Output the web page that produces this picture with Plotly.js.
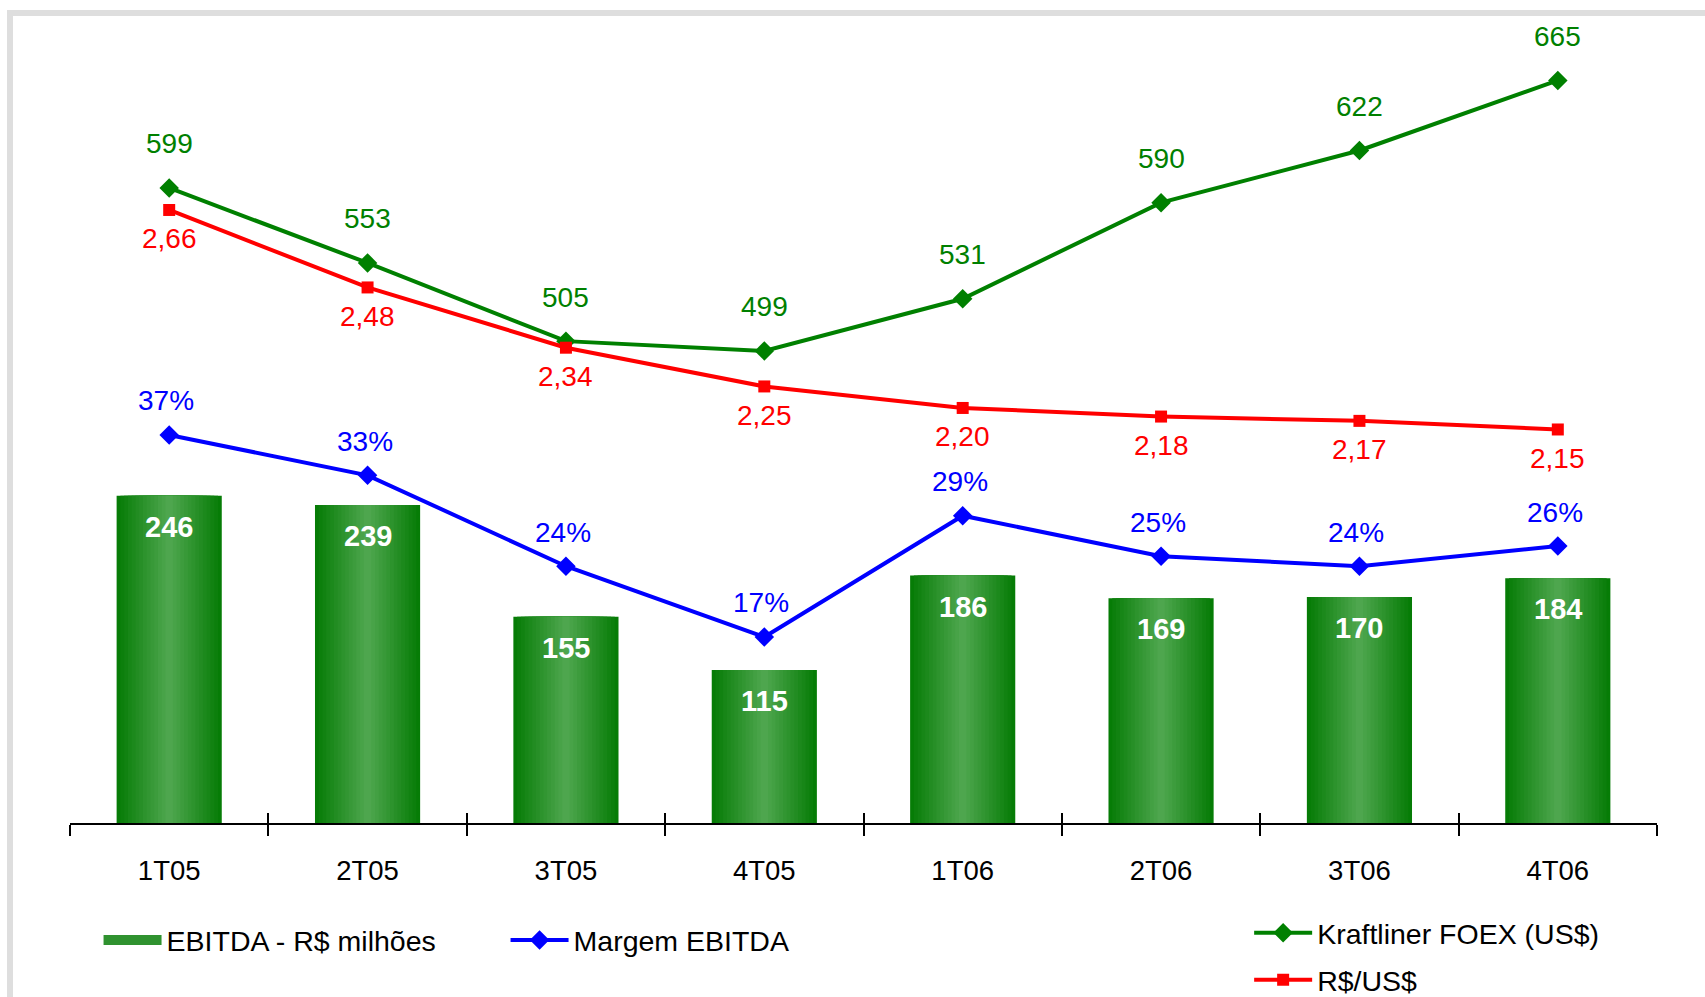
<!DOCTYPE html>
<html><head><meta charset="utf-8">
<script src="https://cdn.plot.ly/plotly-3.0.1.min.js"></script>
<style>
html,body{margin:0;padding:0;background:#fff;overflow:hidden;}
#frame{position:absolute;left:7px;top:10px;right:0;bottom:0;border-left:6px solid #dedede;border-top:6px solid #dedede;}
#chart{position:absolute;left:0;top:0;width:1705px;height:997px;}
</style></head><body>
<div id="frame"></div><div id="chart"></div>
<script>
const categories = ['1T05','2T05','3T05','4T05','1T06','2T06','3T06','4T06'];
const ebitda = [246,239,155,115,186,169,170,184];
const margem = [37,33,24,17,29,25,24,26];
const kraftliner = [599,553,505,499,531,590,622,665];
const cambio = [2.66,2.48,2.34,2.25,2.20,2.18,2.17,2.15];

const margemLabels = margem.map(v => v + '%');
const cambioLabels = cambio.map(v => v.toFixed(2).replace('.', ','));

const FONT = 'Liberation Sans, Arial, sans-serif';
const FS = 28;      // data labels
const FS_TICK = 27.5;
const FS_LEG = 28.5;
const FS_BAR = 29;

const traces = [];
const nLayers = 14;
const outer = [6,124,6], inner = [78,166,78];
for (let k = 0; k < nLayers; k++) {
  const t = k / (nLayers - 1);
  const c = outer.map((o, i) => Math.round(o + (inner[i] - o) * t));
  traces.push({
    type: 'bar', x: categories, y: ebitda, xaxis: 'x', yaxis: 'y',
    width: 0.53 * (1 - k / nLayers),
    marker: {color: `rgb(${c[0]},${c[1]},${c[2]})`, line: {width: 0}},
    name: 'EBITDA - R$ milhões', showlegend: false, hoverinfo: 'skip'
  });
}
// legend entry for the EBITDA bars (no points of its own)
traces.push({
  type: 'scatter', mode: 'lines', x: categories, y: ebitda.map(() => null), yaxis: 'y',
  line: {color: '#2f922f', width: 17}, name: 'EBITDA - R$ milhões', legend: 'legend'
});
traces.push({
  type: 'scatter', mode: 'lines+markers', x: categories, y: kraftliner, yaxis: 'y2',
  line: {color: '#008000', width: 4}, marker: {symbol: 'diamond', size: 15, color: '#008000'},
  name: 'Kraftliner FOEX (US$)', legend: 'legend2', legendgroup: 'k', cliponaxis: false
});
traces.push({
  type: 'scatter', mode: 'lines+markers', x: categories, y: cambio, yaxis: 'y3',
  line: {color: '#ff0000', width: 4}, marker: {symbol: 'square', size: 12, color: '#ff0000'},
  name: 'R$/US$', legend: 'legend2', legendgroup: 'r', cliponaxis: false
});
traces.push({
  type: 'scatter', mode: 'lines+markers', x: categories, y: margem, yaxis: 'y4',
  line: {color: '#0000ff', width: 4}, marker: {symbol: 'diamond', size: 15, color: '#0000ff'},
  name: 'Margem EBITDA', legend: 'legend', cliponaxis: false
});

const annotations = [];
categories.forEach((c, i) => {
  annotations.push({x: c, y: ebitda[i], xref: 'x', yref: 'y', yshift: -31, showarrow: false,
    text: '<b>' + ebitda[i] + '</b>', font: {family: FONT, size: FS_BAR, color: '#ffffff'}});
  annotations.push({x: c, y: kraftliner[i], xref: 'x', yref: 'y2', yshift: 44, showarrow: false,
    text: String(kraftliner[i]), font: {family: FONT, size: FS, color: '#008000'}});
  annotations.push({x: c, y: cambio[i], xref: 'x', yref: 'y3', yshift: -29, showarrow: false,
    text: cambioLabels[i], font: {family: FONT, size: FS, color: '#ff0000'}});
  annotations.push({x: c, y: margem[i], xref: 'x', yref: 'y4', yshift: 34, xshift: -3, showarrow: false,
    text: margemLabels[i], font: {family: FONT, size: FS, color: '#0000ff'}});
});

const hidden = {visible: false, fixedrange: true};
const layout = {
  width: 1705, height: 997,
  margin: {l: 70, r: 48, t: 40, b: 174},
  paper_bgcolor: 'rgba(0,0,0,0)', plot_bgcolor: 'rgba(0,0,0,0)',
  font: {family: FONT, size: FS, color: '#000'},
  barmode: 'overlay', hovermode: false,
  xaxis: {type: 'category', range: [-0.5, 7.5], showline: true, linecolor: '#000', linewidth: 2,
    ticks: 'outside', tickson: 'boundaries', ticklen: 11, tickwidth: 2, tickcolor: '#000',
    showgrid: false, zeroline: false, ticklabelstandoff: 22,
    tickfont: {family: FONT, size: FS_TICK, color: '#000'}},
  xaxis2: {type: 'category', overlaying: 'x', range: [-0.5, 7.5], side: 'bottom', anchor: 'y',
    ticks: 'inside', tickson: 'boundaries', ticklen: 10, tickwidth: 2, tickcolor: '#000',
    showticklabels: false, showgrid: false, zeroline: false, showline: false},
  yaxis: Object.assign({range: [0, 588.7]}, hidden),
  yaxis2: Object.assign({range: [209.3, 689.8], overlaying: 'y'}, hidden),
  yaxis3: Object.assign({range: [1.2357, 3.0549], overlaying: 'y'}, hidden),
  yaxis4: Object.assign({range: [-1.42, 76.1], overlaying: 'y'}, hidden),
  legend: {orientation: 'h', xref: 'container', yref: 'container',
    x: 0.0578, xanchor: 'left', y: 0.0567, yanchor: 'middle',
    font: {family: FONT, size: FS_LEG, color: '#000'}, itemwidth: 58,
    entrywidth: 334, entrywidthmode: 'pixels', bgcolor: 'rgba(0,0,0,0)'},
  legend2: {orientation: 'v', xref: 'paper', yref: 'container',
    x: 0.743, xanchor: 'left', y: 0.0896, yanchor: 'top',
    font: {family: FONT, size: FS_LEG, color: '#000'}, itemwidth: 58, tracegroupgap: 7,
    bgcolor: 'rgba(0,0,0,0)'},
  annotations: annotations,
  showlegend: true
};
// empty trace so the crossing boundary ticks of xaxis2 are drawn
traces.push({type: 'scatter', x: categories, y: ebitda.map(() => null), xaxis: 'x2', yaxis: 'y',
  showlegend: false, hoverinfo: 'skip'});

Plotly.newPlot('chart', traces, layout, {staticPlot: true, displayModeBar: false});
</script>
</body></html>
